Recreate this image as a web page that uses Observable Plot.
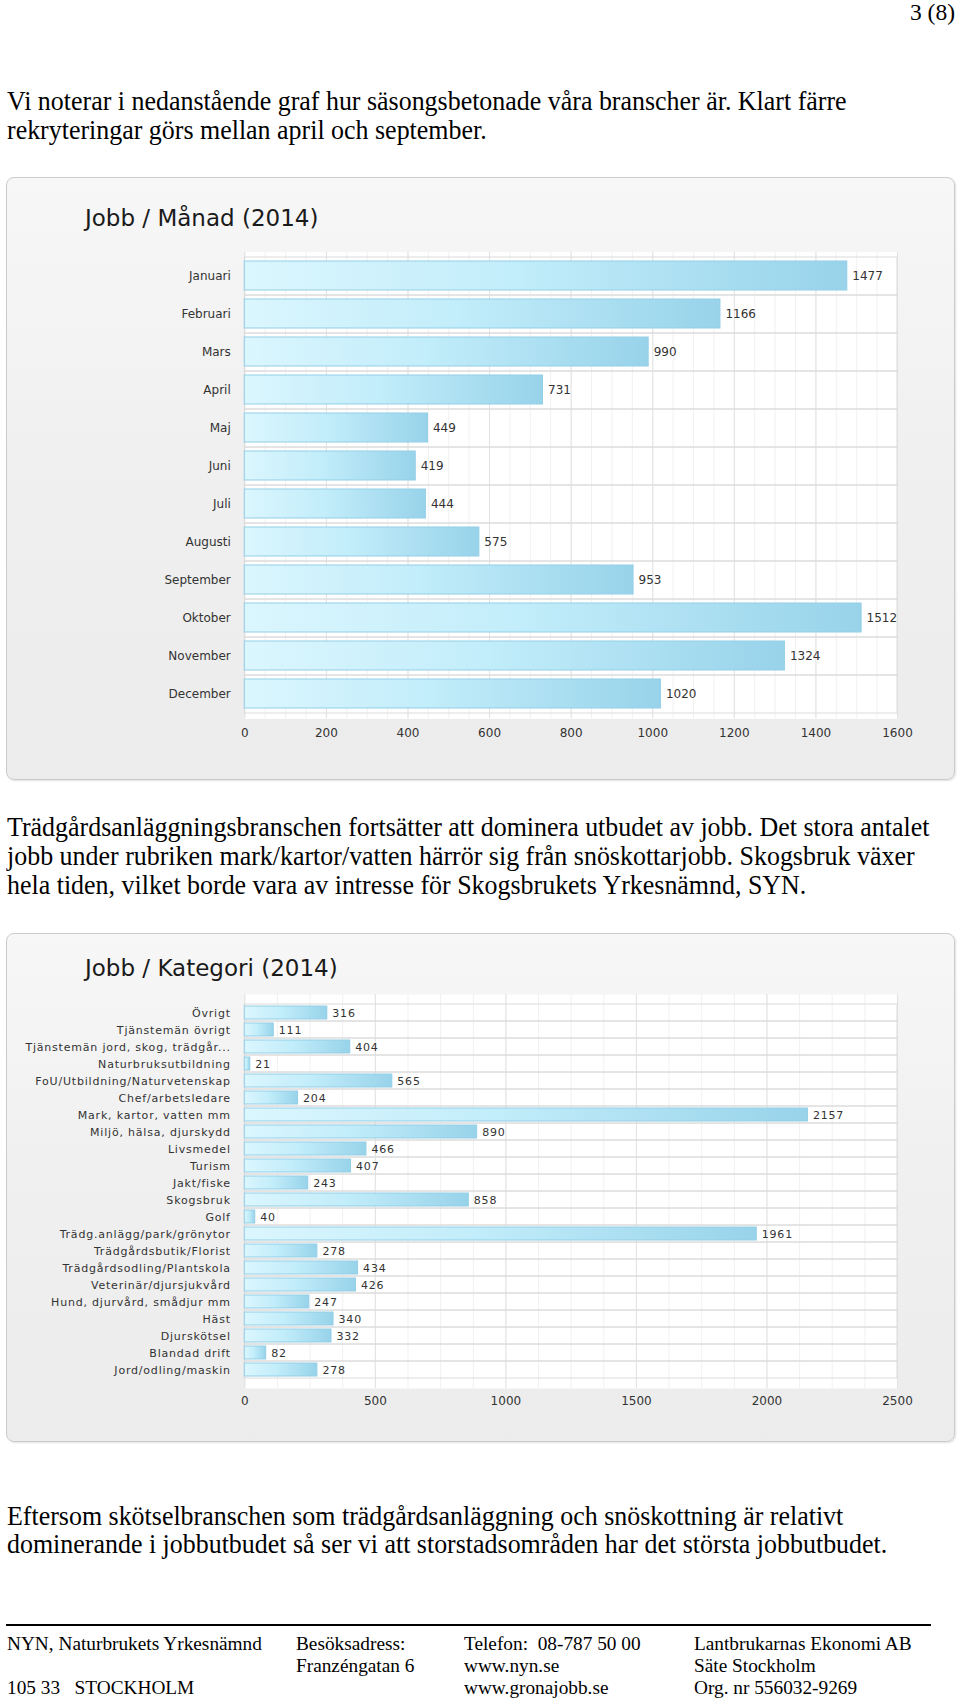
<!DOCTYPE html>
<html lang="sv"><head><meta charset="utf-8">
<script src="https://cdn.jsdelivr.net/npm/d3@7"></script>
<script src="https://cdn.jsdelivr.net/npm/@observablehq/plot@0.6"></script>
<style>
html,body{margin:0;padding:0;background:#fff}
#page{position:relative;width:960px;height:1700px;overflow:hidden}
.t{position:absolute;font-family:"Liberation Serif","Times New Roman",serif;white-space:pre;color:#000;transform-origin:0 0}
.box{position:absolute;left:6px;width:949px;box-sizing:border-box;border:1px solid #cbcbcb;border-radius:8px;background:linear-gradient(180deg,#f7f7f7 0%,#f0f0f0 45%,#ececec 100%);box-shadow:1px 1px 2px rgba(0,0,0,.12)}
.title{position:absolute;left:85px;font-family:"DejaVu Sans",Verdana,sans-serif;font-size:23px;line-height:23px;color:#1a1a1a;white-space:nowrap}
.chart{position:absolute;left:6px}
.c2 g[aria-label="y-axis tick label"] text{letter-spacing:.8px}
.c2 g[aria-label="text"] text{letter-spacing:.8px}
.hr{position:absolute;left:6px;width:925px;top:1624px;height:1.5px;background:#000}
</style></head><body><div id="page"></div><script>
// ---- data ----
const months = ["Januari","Februari","Mars","April","Maj","Juni","Juli","Augusti","September","Oktober","November","December"];
const monthJobs = [1477,1166,990,731,449,419,444,575,953,1512,1324,1020];
const monthTicks = [0,200,400,600,800,1000,1200,1400,1600];
const monthMinor = d3.range(0,1601,50);

const categories = ["Övrigt","Tjänstemän övrigt","Tjänstemän jord, skog, trädgår...","Naturbruksutbildning","FoU/Utbildning/Naturvetenskap","Chef/arbetsledare","Mark, kartor, vatten mm","Miljö, hälsa, djurskydd","Livsmedel","Turism","Jakt/fiske","Skogsbruk","Golf","Trädg.anlägg/park/grönytor","Trädgårdsbutik/Florist","Trädgårdsodling/Plantskola","Veterinär/djursjukvård","Hund, djurvård, smådjur mm","Häst","Djurskötsel","Blandad drift","Jord/odling/maskin"];
const categoryJobs = [316,111,404,21,565,204,2157,890,466,407,243,858,40,1961,278,434,426,247,340,332,82,278];
const categoryTicks = [0,500,1000,1500,2000,2500];
const categoryMinor = d3.range(0,2501,125);

const para1 = ["Vi noterar i nedanstående graf hur säsongsbetonade våra branscher är. Klart färre","rekryteringar görs mellan april och september."];
const para2 = ["Trädgårdsanläggningsbranschen fortsätter att dominera utbudet av jobb. Det stora antalet","jobb under rubriken mark/kartor/vatten härrör sig från snöskottarjobb. Skogsbruk växer","hela tiden, vilket borde vara av intresse för Skogsbrukets Yrkesnämnd, SYN."];
const para3 = ["Eftersom skötselbranschen som trädgårdsanläggning och snöskottning är relativt","dominerande i jobbutbudet så ser vi att storstadsområden har det största jobbutbudet."];
const footer = [
  ["NYN, Naturbrukets Yrkesnämnd","","105 33   STOCKHOLM"],
  ["Besöksadress:","Franzéngatan 6",""],
  ["Telefon:  08-787 50 00","www.nyn.se","www.gronajobb.se"],
  ["Lantbrukarnas Ekonomi AB","Säte Stockholm","Org. nr 556032-9269"]
];

// ---- page text ----
const page = document.getElementById("page");
function txt(s, x, base, fs, right) {
  const d = document.createElement("div");
  d.className = "t"; d.textContent = s;
  d.style.fontSize = fs + "px"; d.style.lineHeight = fs + "px";
  d.style.top = (base - 0.8375 * fs) + "px";
  if (right) { d.style.right = (960 - x) + "px"; d.style.transformOrigin = "100% 0"; }
  else d.style.left = x + "px";
  page.appendChild(d); return d;
}
const BODY = 26.5, FOOT = 18.5;
const body = [];
body.push(txt("3 (8)", 955, 20, 24, true));
const p1 = para1.map((s, i) => txt(s, 6.5, 110.5 + i * 28.3, BODY));
const p2 = para2.map((s, i) => txt(s, 6.5, 836.5 + i * 28.8, BODY));
const p3 = para3.map((s, i) => txt(s, 6.5, 1525 + i * 28.3, BODY));
body.push(...p1, ...p2, ...p3);
const fx = [6.5, 296, 464, 694];
const foot = [];
footer.forEach((col, c) => col.forEach((s, r) => { if (s) foot.push(txt(s, fx[c], 1650 + r * 22.2, FOOT)); }));
const kBody = 922 / p2[0].offsetWidth;
const kFoot = 254.5 / foot[0].offsetWidth;
body.forEach(d => d.style.transform = `scaleX(${kBody})`);
foot.forEach(d => d.style.transform = `scaleX(${kFoot})`);
const hr = document.createElement("div"); hr.className = "hr"; page.appendChild(hr);

// ---- charts ----
function gradDefs(id) {
  const defs = d3.create("svg:defs");
  const g = defs.append("linearGradient").attr("id", id).attr("x1", "0").attr("x2", "1").attr("y1", "0").attr("y2", "0");
  g.append("stop").attr("offset", "0").attr("stop-color", "#dbf6fe");
  g.append("stop").attr("offset", "0.45").attr("stop-color", "#c2edfa");
  g.append("stop").attr("offset", "1").attr("stop-color", "#98d3ea");
  return defs.node();
}
function barChart({cats, vals, ticks, minor, height, mt, mb, inT, inB, fs, cls, tp}) {
  const data = cats.map((c, i) => ({c, v: vals[i]}));
  const id = cls + "grad";
  return Plot.plot({
    width: 949, height,
    marginLeft: 238.3, marginRight: 58, marginTop: mt, marginBottom: mb,
    className: cls,
    style: {background: "transparent", fontFamily: '"DejaVu Sans",Verdana,sans-serif', fontSize: "12px", color: "#333", overflow: "visible"},
    x: {domain: [ticks[0], ticks[ticks.length - 1]], label: null},
    y: {domain: cats, padding: 0, label: null},
    marks: [
      () => gradDefs(id),
      Plot.frame({fill: "#fff", stroke: "none"}),
      Plot.ruleX(minor, {stroke: "#f1f1f1"}),
      Plot.ruleX(ticks, {stroke: "#e2e2e2"}),
      Plot.cell(data, {y: "c", fill: "none", stroke: "#dcdcdc"}),
      Plot.barX(data, {x: "v", y: "c", fill: `url(#${id})`, stroke: "#93cfe7", strokeWidth: 1, insetTop: inT, insetBottom: inB}),
      Plot.text(data, {x: "v", y: "c", text: d => String(d.v), textAnchor: "start", dx: 5, fill: "#333", fontSize: fs}),
      Plot.axisX({ticks, tickSize: 0, tickPadding: tp, tickFormat: d => String(d), fontSize: 12}),
      Plot.axisY({tickSize: 0, tickPadding: 14, fontSize: fs})
    ]
  });
}
function placeBox(top, h, title, titleBase, chart) {
  const b = document.createElement("div"); b.className = "box";
  b.style.top = top + "px"; b.style.height = h + "px"; page.appendChild(b);
  const t = document.createElement("div"); t.className = "title"; t.textContent = title;
  t.style.top = (titleBase - 0.846 * 23) + "px"; page.appendChild(t);
  chart.classList.add("chart"); chart.style.top = top + "px"; page.appendChild(chart);
}
placeBox(177, 603, "Jobb / Månad (2014)", 226.5,
  barChart({cats: months, vals: monthJobs, ticks: monthTicks, minor: monthMinor, height: 603, mt: 74.7, mb: 61.7, inT: 4, inB: 5, fs: 12, cls: "c1", tp: 10}));
placeBox(933, 509, "Jobb / Kategori (2014)", 976.5,
  barChart({cats: categories, vals: categoryJobs, ticks: categoryTicks, minor: categoryMinor, height: 509, mt: 61, mb: 54, inT: 2, inB: 2, fs: 11, cls: "c2", tp: 8}));
</script></body></html>
